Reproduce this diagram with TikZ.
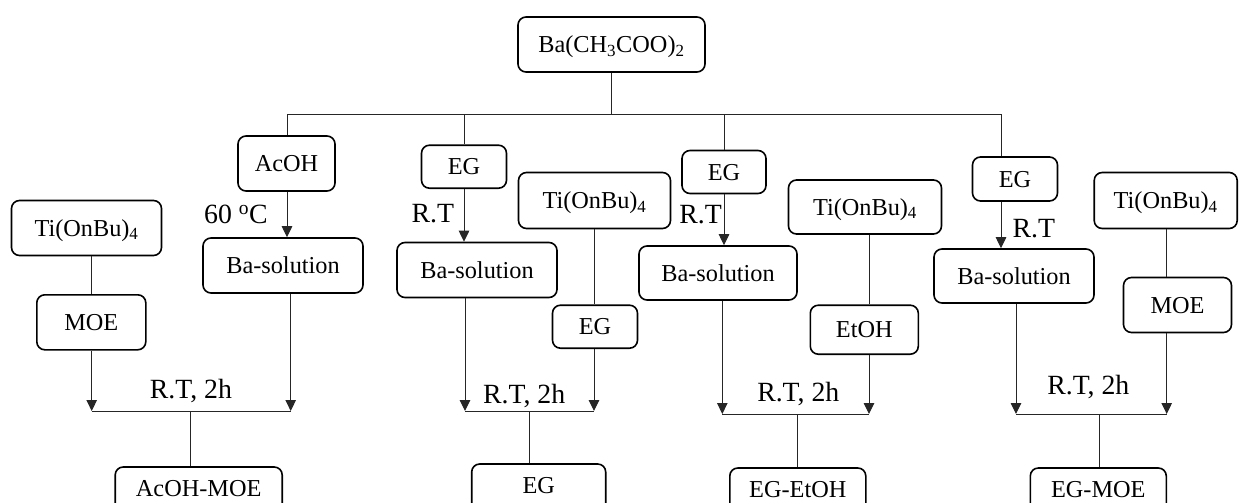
\documentclass[tikz,border=0pt]{standalone}
\usepackage{fontspec}
\setmainfont{Liberation Serif}
\usetikzlibrary{arrows.meta}
\tikzset{
  box/.style={draw, rounded corners=8pt, line width=1.6pt, inner sep=0pt,
    font=\fontsize{24.3}{28}\selectfont, text height=16pt, text depth=0pt},
  endbox/.style={box, text depth=12pt, minimum height=55pt},
  lbl/.style={inner sep=0pt, font=\fontsize{27.8}{30}\selectfont, text height=18.4pt, text depth=0pt},
  conn/.style={line width=1pt, draw=black!85},
  arr/.style={conn, -{Triangle[width=10.5pt,length=11pt]}},
}
\begin{document}
\begin{tikzpicture}[x=1pt,y=-1pt]
\path[use as bounding box, clip] (0,0) rectangle (1239,503);

% boxes
\node[box, minimum width=187pt, minimum height=55pt] (top) at (611.5,44.5) {Ba(CH\textsubscript{3}COO)\textsubscript{2}};

\node[box, minimum width=97pt, minimum height=55pt] (acoh) at (286.5,163.5) {AcOH};
\node[box, minimum width=160pt, minimum height=55pt] (bs1) at (283,265.5) {Ba-solution};
\node[box, minimum width=150pt, minimum height=55pt] (ti1) at (86.5,228) {Ti(OnBu)\textsubscript{4}};
\node[box, minimum width=109pt, minimum height=55pt] (moe1) at (91.3,322.3) {MOE};
\node[endbox, minimum width=167pt] (am) at (198.7,494.5) {AcOH-MOE};

\node[box, minimum width=85pt, minimum height=43pt] (eg2) at (464,166.7) {EG};
\node[box, minimum width=160pt, minimum height=55pt] (bs2) at (477,270) {Ba-solution};
\node[box, minimum width=152pt, minimum height=56pt] (ti2) at (594.5,200.5) {Ti(OnBu)\textsubscript{4}};
\node[box, minimum width=85pt, minimum height=43pt] (eg2b) at (595,326.7) {EG};
\node[endbox, minimum width=134pt] (egb) at (538.7,491.5) {EG};

\node[box, minimum width=84pt, minimum height=43pt] (eg3) at (724,172) {EG};
\node[box, minimum width=158pt, minimum height=54pt] (bs3) at (718,273) {Ba-solution};
\node[box, minimum width=153pt, minimum height=54pt] (ti3) at (865,207) {Ti(OnBu)\textsubscript{4}};
\node[box, minimum width=108pt, minimum height=49pt] (etoh) at (864.3,329.7) {EtOH};
\node[endbox, minimum width=136pt] (ee) at (797.8,495.5) {EG-EtOH};

\node[box, minimum width=85pt, minimum height=44pt] (eg4) at (1015,179) {EG};
\node[box, minimum width=160pt, minimum height=54pt] (bs4) at (1014,276) {Ba-solution};
\node[box, minimum width=143pt, minimum height=56pt] (ti4) at (1165.7,200.5) {Ti(OnBu)\textsubscript{4}};
\node[box, minimum width=108pt, minimum height=55pt] (moe4) at (1177.5,305) {MOE};
\node[endbox, minimum width=136pt] (em) at (1098.3,495.5) {EG-MOE};

% labels
\node[lbl] (c60) at (236,214.7) {60 \textsuperscript{o}C};
\node[lbl] (rt2) at (432.8,213.3) {R.T};
\node[lbl] (rt3) at (700.5,214) {R.T};
\node[lbl] (rt4) at (1033.8,228.2) {R.T};
\node[lbl] (rth1) at (191,389) {R.T, 2h};
\node[lbl] (rth2) at (524.2,393.8) {R.T, 2h};
\node[lbl] (rth3) at (798.3,392.5) {R.T, 2h};
\node[lbl] (rth4) at (1088.3,385.3) {R.T, 2h};

% top bus
\coordinate (b1) at (287,114);
\coordinate (b2) at (464,114);
\coordinate (b3) at (724,114);
\coordinate (b4) at (1001,114);
\draw[conn] (top.south) -- (top.south |- b1);
\draw[conn] (b1) -- (b4);
\draw[conn] (b1) -- (b1 |- acoh.north);
\draw[conn] (b2) -- (b2 |- eg2.north);
\draw[conn] (b3) -- (b3 |- eg3.north);
\draw[conn] (b4) -- (b4 |- eg4.north);
\draw[arr] (acoh.south -| b1) -- (b1 |- bs1.north);
\draw[arr] (eg2.south -| b2) -- (b2 |- bs2.north);
\draw[arr] (eg3.south -| b3) -- (b3 |- bs3.north);
\draw[arr] (eg4.south -| b4) -- (b4 |- bs4.north);

% column 1 merge
\coordinate (m1l) at (91.7,411);
\coordinate (m1r) at (290.7,411);
\coordinate (m1c) at (190.7,411);
\draw[conn] (ti1.south -| m1l) -- (m1l |- moe1.north);
\draw[arr] (moe1.south -| m1l) -- (m1l);
\draw[arr] (bs1.south -| m1r) -- (m1r);
\draw[conn] (m1l) -- (m1r);
\draw[conn] (m1c) -- (m1c |- am.north);

% column 2 merge
\coordinate (m2l) at (465,411);
\coordinate (m2r) at (594,411);
\coordinate (m2c) at (529.3,411);
\draw[conn] (ti2.south -| m2r) -- (m2r |- eg2b.north);
\draw[arr] (eg2b.south -| m2r) -- (m2r);
\draw[arr] (bs2.south -| m2l) -- (m2l);
\draw[conn] (m2l) -- (m2r);
\draw[conn] (m2c) -- (m2c |- egb.north);

% column 3 merge
\coordinate (m3l) at (722.3,414);
\coordinate (m3r) at (869,414);
\coordinate (m3c) at (797,414);
\draw[conn] (ti3.south -| m3r) -- (m3r |- etoh.north);
\draw[arr] (etoh.south -| m3r) -- (m3r);
\draw[arr] (bs3.south -| m3l) -- (m3l);
\draw[conn] (m3l) -- (m3r);
\draw[conn] (m3c) -- (m3c |- ee.north);

% column 4 merge
\coordinate (m4l) at (1016,414);
\coordinate (m4r) at (1166.7,414);
\coordinate (m4c) at (1099.3,414);
\draw[conn] (ti4.south -| m4r) -- (m4r |- moe4.north);
\draw[arr] (moe4.south -| m4r) -- (m4r);
\draw[arr] (bs4.south -| m4l) -- (m4l);
\draw[conn] (m4l) -- (m4r);
\draw[conn] (m4c) -- (m4c |- em.north);
\end{tikzpicture}
\end{document}
